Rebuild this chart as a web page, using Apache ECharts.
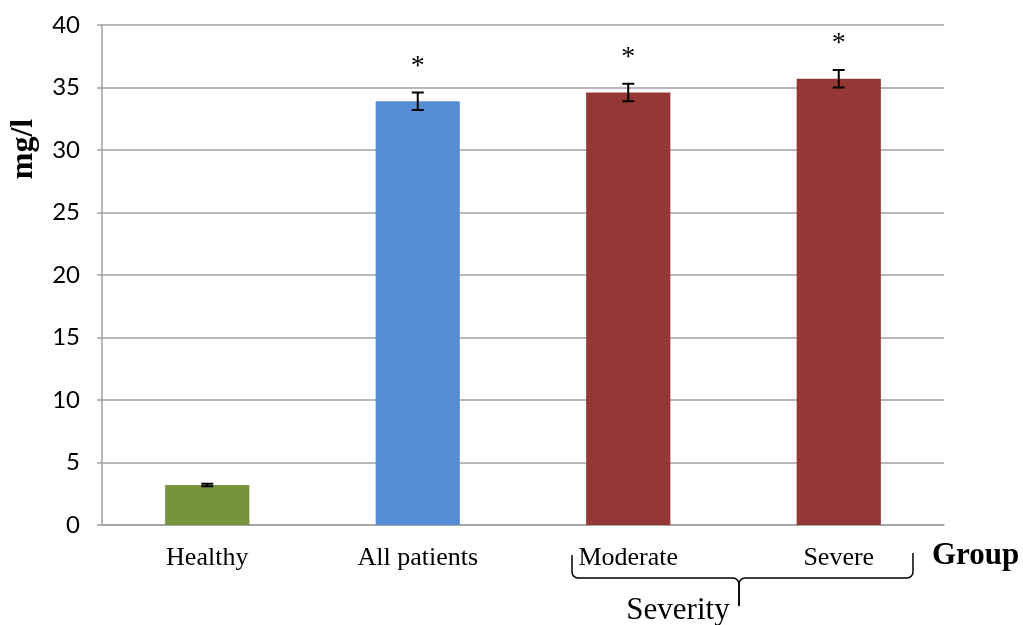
<!DOCTYPE html>
<html>
<head>
<meta charset="utf-8">
<style>
  html, body { margin: 0; padding: 0; background: #ffffff; }
  #chart { width: 1023px; height: 625px; }
</style>
<script src="https://cdn.jsdelivr.net/npm/echarts@6/dist/echarts.min.js"></script>
</head>
<body>
<div id="chart"></div>
<script>
// Serum level per group (mg/l), mean with error
const categories = ['Healthy', 'All patients', 'Moderate', 'Severe'];
const means = [3.2, 33.9, 34.6, 35.7];
const errors = [0.1, 0.7, 0.7, 0.7];
const marks = ['', '*', '*', '*'];
const yTicks = { min: 0, max: 40, interval: 5 };

const barColors = ['#77933C', '#558ED5', '#953735', '#953735'];
const serif = '"Liberation Serif", "Times New Roman", serif';

const chart = echarts.init(document.getElementById('chart'));

// brace outline under the two severity categories, with rounded corners
function braceHalf(xOuter, xTip, yTop, yBar, yTip) {
  const r = 6;
  const dir = xTip > xOuter ? 1 : -1;
  const pts = [[xOuter, yTop], [xOuter, yBar - r]];
  for (let k = 1; k <= 4; k++) {
    const a = (k / 4) * Math.PI / 2;
    pts.push([xOuter + dir * r * (1 - Math.cos(a)), yBar - r + r * Math.sin(a)]);
  }
  pts.push([xTip - dir * r, yBar]);
  for (let k = 1; k <= 4; k++) {
    const a = (k / 4) * Math.PI / 2;
    pts.push([xTip - dir * r + dir * r * Math.sin(a), yBar + r * (1 - Math.cos(a))]);
  }
  pts.push([xTip, yTip]);
  return pts;
}

const option = {
  animation: false,
  grid: { left: 102, right: 79, top: 25, bottom: 100, containLabel: false },
  xAxis: {
    type: 'category',
    data: categories,
    axisLine: { show: true, lineStyle: { color: '#a0a0a0', width: 1.5 } },
    axisTick: { show: false },
    axisLabel: { fontFamily: serif, fontSize: 26, color: '#000', margin: 20 }
  },
  yAxis: {
    type: 'value',
    min: yTicks.min,
    max: yTicks.max,
    interval: yTicks.interval,
    axisLine: { show: true, lineStyle: { color: '#a0a0a0', width: 1.5 } },
    axisTick: { show: true, inside: false, length: 5, lineStyle: { color: '#a0a0a0', width: 1.5 } },
    splitLine: { show: true, lineStyle: { color: '#a0a0a0', width: 1.5 } },
    axisLabel: { fontFamily: 'Lato, "Open Sans", sans-serif', fontSize: 24, color: '#000', margin: 22 }
  },
  series: [
    {
      type: 'bar',
      barWidth: '40%',
      data: means.map((v, i) => ({ value: v, itemStyle: { color: barColors[i] } }))
    },
    {
      type: 'custom',
      z: 10,
      data: means.map((v, i) => [i, v, errors[i]]),
      renderItem: function (params, api) {
        const x = api.value(0);
        const m = api.value(1);
        const e = api.value(2);
        const top = api.coord([x, m + e]);
        const bot = api.coord([x, m - e]);
        const hw = 6;
        const ls = { stroke: '#000', lineWidth: 2 };
        const children = [
          { type: 'line', shape: { x1: top[0], y1: top[1], x2: bot[0], y2: bot[1] }, style: ls },
          { type: 'line', shape: { x1: top[0] - hw, y1: top[1], x2: top[0] + hw, y2: top[1] }, style: ls },
          { type: 'line', shape: { x1: bot[0] - hw, y1: bot[1], x2: bot[0] + hw, y2: bot[1] }, style: ls }
        ];
        const mark = marks[params.dataIndex];
        if (mark) {
          children.push({
            type: 'text',
            style: {
              text: mark, x: top[0], y: top[1] - 26,
              fill: '#000', font: '28px ' + serif,
              align: 'center', verticalAlign: 'middle'
            }
          });
        }
        return { type: 'group', children: children };
      }
    }
  ],
  graphic: [
    {
      type: 'text',
      x: 24, y: 149,
      rotation: Math.PI / 2,
      style: {
        text: 'mg/l', fill: '#000',
        font: 'bold 32px ' + serif,
        align: 'center', verticalAlign: 'middle'
      }
    },
    {
      type: 'text',
      x: 932, y: 556,
      style: {
        text: 'Group', fill: '#000',
        font: 'bold 31px ' + serif,
        align: 'left', verticalAlign: 'middle'
      }
    },
    {
      type: 'polyline',
      shape: { points: braceHalf(572, 739, 555, 578, 606) },
      style: { fill: null, stroke: '#000', lineWidth: 1.5 }
    },
    {
      type: 'polyline',
      shape: { points: braceHalf(913, 739, 553, 578, 606) },
      style: { fill: null, stroke: '#000', lineWidth: 1.5 }
    },
    {
      type: 'text',
      x: 678, y: 611,
      style: {
        text: 'Severity', fill: '#000',
        font: '31px ' + serif,
        align: 'center', verticalAlign: 'middle'
      }
    }
  ]
};

chart.setOption(option);
</script>
</body>
</html>
